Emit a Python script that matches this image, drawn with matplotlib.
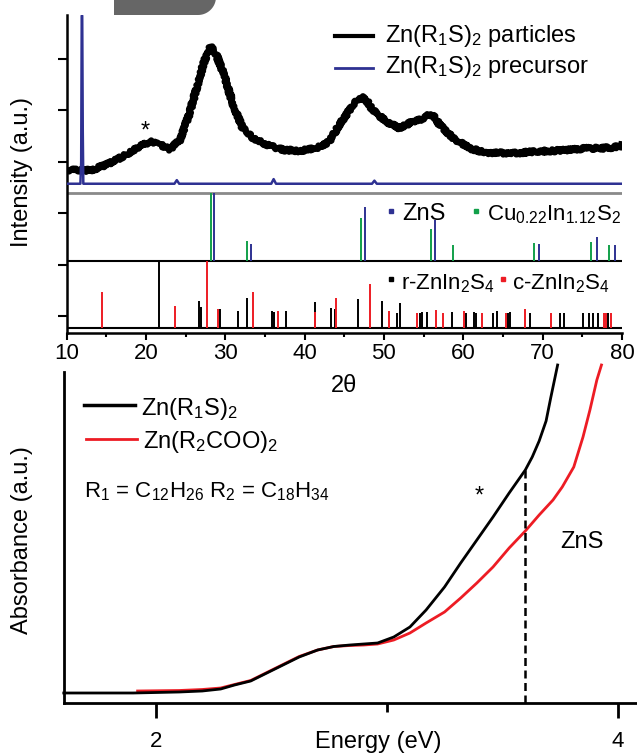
# XRD patterns with reference cards (top) and UV-vis absorbance spectra (bottom)

import numpy as np
import matplotlib.pyplot as plt
from matplotlib.lines import Line2D
from matplotlib.patches import Polygon

plt.rcParams['font.family'] = ['Liberation Sans', 'DejaVu Sans']
plt.rcParams['mathtext.fontset'] = 'custom'
plt.rcParams['mathtext.rm'] = 'Liberation Sans'
plt.rcParams['mathtext.it'] = 'Liberation Sans:italic'
plt.rcParams['mathtext.default'] = 'rm'

# XRD of Zn(R1S)2 particles (2theta, intensity a.u.)
xrd_2theta = [10.0, 10.2, 13.0, 15.05, 17.1, 19.2, 20.5, 21.8, 23.0, 24.3, 25.5, 26.8,
              27.4, 28.0, 28.3, 28.7, 29.2, 29.7, 31.0, 32.2, 33.5, 35.2, 37.3, 39.4,
              41.5, 43.1, 44.4, 46.1, 46.8, 47.4, 48.0, 48.6, 50.3, 52.0, 53.6, 54.5,
              55.3, 55.9, 56.4, 57.0, 58.7, 60.8, 62.9, 64.9, 67.0, 69.1, 71.2, 73.3,
              75.4, 77.5, 79.6, 80.0]
xrd_particles = [45, 45, 44, 55, 71, 90, 100, 94, 85, 103, 155, 227,
                 258, 280, 286, 276, 256, 236, 172, 126, 107, 94, 84, 82,
                 87, 100, 133, 172, 183, 186, 176, 161, 139, 126, 139, 142,
                 149, 153, 148, 133, 107, 87, 78, 78, 78, 81, 82, 84,
                 87, 87, 90, 92]

# XRD of Zn(R1S)2 precursor
pre_2theta = [10.0, 11.75, 11.85, 11.92, 11.98, 12.05, 12.12, 23.6, 23.9, 24.2,
              35.8, 36.1, 36.4, 48.5, 48.8, 49.1, 80.0]
xrd_precursor = [18, 18, 60, 345, 345, 120, 18, 18, 25, 18,
                 18, 27, 18, 18, 24, 18, 18]

# reference cards (position, relative intensity %)
zns_pos = [28.55, 33.3, 47.6, 56.4, 69.56, 76.8, 79.1]
zns_int = [100, 25, 80, 60, 25, 35, 23]
cuins_pos = [28.25, 32.8, 47.1, 55.9, 58.65, 68.85, 76.06, 78.4]
cuins_int = [100, 30, 63, 47, 23, 27, 28, 23]
r_znins_pos = [21.6, 26.67, 27.0, 29.3, 31.66, 32.7, 35.9, 36.2, 37.7, 41.3, 43.3, 43.8,
               46.7, 49.7, 51.6, 52.0, 54.6, 54.8, 55.4, 58.6, 60.4, 61.4, 61.6, 63.7,
               64.3, 65.6, 65.9, 68.4, 72.2, 72.7, 75.1, 75.9, 76.3, 77.0, 78.2]
r_znins_int = [100, 40, 31, 28, 26, 44, 26, 24, 26, 39, 30, 28,
               43, 40, 23, 37, 23, 24, 24, 24, 22, 24, 23, 23,
               26, 23, 24, 23, 23, 22, 22, 23, 22, 23, 23]
c_znins_pos = [14.47, 23.65, 27.75, 29.1, 33.5, 36.7, 41.3, 44.0, 48.2, 50.6, 54.2,
               56.5, 57.5, 60.1, 62.3, 65.4, 67.8, 71.0, 77.7, 78.0, 78.6]
c_znins_int = [53, 33, 100, 28, 53, 25, 24, 44, 66, 25, 22,
               27, 22, 26, 22, 22, 28, 23, 23, 22, 22]

# UV-vis absorbance
e_r1s = [1.60, 1.90, 2.10, 2.20, 2.28, 2.34, 2.41, 2.48, 2.55, 2.62, 2.70, 2.77, 2.84,
         2.90, 2.96, 3.03, 3.10, 3.17, 3.25, 3.32, 3.39, 3.46, 3.53, 3.60, 3.63, 3.66,
         3.69, 3.71, 3.74]
a_r1s = [0.00, 0.00, 0.01, 0.02, 0.04, 0.08, 0.12, 0.20, 0.28, 0.36, 0.43, 0.465, 0.48,
         0.49, 0.50, 0.56, 0.66, 0.83, 1.06, 1.30, 1.53, 1.76, 2.00, 2.23, 2.36, 2.52,
         2.72, 2.95, 3.28]
e_r2coo = [1.92, 2.10, 2.20, 2.28, 2.34, 2.41, 2.48, 2.55, 2.62, 2.70, 2.77, 2.84, 2.90,
           2.96, 3.03, 3.10, 3.17, 3.25, 3.32, 3.39, 3.46, 3.53, 3.60, 3.66, 3.72, 3.76,
           3.81, 3.85, 3.88, 3.91, 3.93]
a_r2coo = [0.02, 0.025, 0.035, 0.05, 0.085, 0.125, 0.205, 0.285, 0.365, 0.43, 0.465, 0.475,
           0.48, 0.49, 0.53, 0.60, 0.70, 0.81, 0.95, 1.10, 1.26, 1.45, 1.62, 1.78, 1.93,
           2.06, 2.26, 2.56, 2.83, 3.13, 3.28]
zns_edge = 3.6
zns_edge_abs = 2.23

BLUE = '#2e3192'
GREEN = '#12a04a'
RED = '#ed1c24'
W, H = 637, 753
FS = 17


def box(x0, y0, x1, y1):
    return [x0 / W, 1 - y1 / H, (x1 - x0) / W, (y1 - y0) / H]


def ftext(x, y, s, **kw):
    kw.setdefault('fontsize', FS)
    fig.text(x / W, 1 - y / H, s, **kw)


def fline(xs, ys, **kw):
    fig.add_artist(Line2D([x / W for x in xs], [1 - y / H for y in ys], **kw))


fig = plt.figure(figsize=(6.37, 7.53), dpi=100)

# ---- top: XRD ----
ax1 = fig.add_axes(box(66.5, 15, 622, 333))
base_xrd, base_c1, base_c2 = 3.393, 2.070, 0.767
h_c1, h_c2 = 1.323, 1.303

line, = ax1.plot(xrd_2theta, base_xrd + np.array(xrd_particles) / 100, color='black', lw=4.5,
                 solid_joinstyle='round', zorder=2)
line.set_sketch_params(scale=1.6, length=1.5, randomness=6)  # noisy look of the raw scan
ax1.plot(pre_2theta, base_xrd + np.array(xrd_precursor) / 100, color=BLUE, lw=1.8, zorder=3)
ax1.axhline(base_xrd, color='#8a8a8a', lw=2)
ax1.axhline(base_c1, color='black', lw=1.5)
ax1.axhline(base_c2, color='black', lw=1.5)

ax1.vlines(cuins_pos, base_c1, base_c1 + np.array(cuins_int) / 100 * h_c1, color=GREEN, lw=1.4)
ax1.vlines(zns_pos, base_c1, base_c1 + np.array(zns_int) / 100 * h_c1, color=BLUE, lw=1.4)
ax1.vlines(r_znins_pos, base_c2, base_c2 + np.array(r_znins_int) / 100 * h_c2, color='black', lw=1.4)
ax1.vlines(c_znins_pos, base_c2, base_c2 + np.array(c_znins_int) / 100 * h_c2, color=RED, lw=1.4)

ax1.set_xlim(10, 80)
ax1.set_ylim(0.669, 6.856)
ax1.set_xticks(range(10, 81, 10))
ax1.set_xticks(range(15, 80, 10), minor=True)
ax1.set_yticks(range(1, 7))
ax1.tick_params(axis='y', length=6.5, width=1.5, labelleft=False)
ax1.tick_params(axis='x', which='major', length=5, width=1.5, pad=2, labelsize=16)
ax1.tick_params(axis='x', which='minor', length=3, width=1.5)
for s in ['top', 'right']:
    ax1.spines[s].set_visible(False)
for s in ['left', 'bottom']:
    ax1.spines[s].set_linewidth(1.8)

# ---- bottom: absorbance ----
ax2 = fig.add_axes(box(64, 372, 637, 703))
ax2.plot(e_r2coo, a_r2coo, color=RED, lw=2, clip_on=False)
ax2.plot(e_r1s, a_r1s, color='black', lw=2, clip_on=False)
ax2.vlines(zns_edge, -0.10, zns_edge_abs, color='black', lw=1.8, linestyles=(0, (3.2, 1.8)))
ax2.set_xlim(1.601, 4.084)
ax2.set_ylim(-0.10, 3.21)
ax2.set_xticks([2, 4])
ax2.set_xticks([3], minor=True)
ax2.set_yticks([])
ax2.tick_params(axis='x', which='major', length=11, width=2, pad=9, labelsize=16)
ax2.tick_params(axis='x', which='minor', length=6.5, width=2)
for s in ['top', 'right']:
    ax2.spines[s].set_visible(False)
for s in ['left', 'bottom']:
    ax2.spines[s].set_linewidth(2)

# ---- labels ----
ftext(22, 172, 'Intensity (a.u.)', rotation=90, ha='center', va='center')
ftext(22, 540, 'Absorbance (a.u.)', rotation=90, ha='center', va='center')
ftext(344, 392, '2θ', ha='center', va='baseline')
ftext(378, 748, 'Energy (eV)', ha='center', va='baseline')

# top legend
fline([335, 373], [36, 36], color='black', lw=3)
fline([335, 373], [68, 68], color=BLUE, lw=2)
ftext(385, 42, 'Zn(R$_1$S)$_2$ particles', va='baseline')
ftext(385, 73, 'Zn(R$_1$S)$_2$ precursor', va='baseline')
ftext(145, 132, '*', ha='center', va='center')

# reference card legends
fline([391], [211], marker='s', ms=3.5, color=BLUE, lw=0)
ftext(402, 220, 'ZnS', va='baseline')
fline([476], [211], marker='s', ms=3.5, color=GREEN, lw=0)
ftext(487, 220, 'Cu$_{0.22}$In$_{1.12}$S$_2$', va='baseline', fontsize=16)
fline([391], [279], marker='s', ms=3.5, color='black', lw=0)
ftext(401, 289, 'r-ZnIn$_2$S$_4$', va='baseline', fontsize=16)
fline([503], [279], marker='s', ms=3.5, color=RED, lw=0)
ftext(512, 289, 'c-ZnIn$_2$S$_4$', va='baseline', fontsize=16)

# bottom legend and notes
fline([84, 135], [405, 405], color='black', lw=2.5)
ftext(141, 415, 'Zn(R$_1$S)$_2$', va='baseline')
fline([86, 137], [439, 439], color=RED, lw=2)
ftext(143, 448, 'Zn(R$_2$COO)$_2$', va='baseline')
ftext(84, 497, 'R$_1$ = C$_{12}$H$_{26}$ R$_2$ = C$_{18}$H$_{34}$', va='baseline', fontsize=16)
ftext(479, 497, '*', ha='center', va='center')
ftext(560, 548, 'ZnS', va='baseline')

# grey tab at the top edge
t = np.linspace(-np.pi / 2, 0, 20)
tab = [(114, 0), (114, 15)] + [(198 + 18 * np.cos(a), -3 - 18 * np.sin(a)) for a in t] + [(216, 0)]
fig.add_artist(Polygon([(x / W, 1 - y / H) for x, y in tab], closed=True,
                       facecolor='#666666', edgecolor='none'))

fig.savefig('out.png', dpi=100)
